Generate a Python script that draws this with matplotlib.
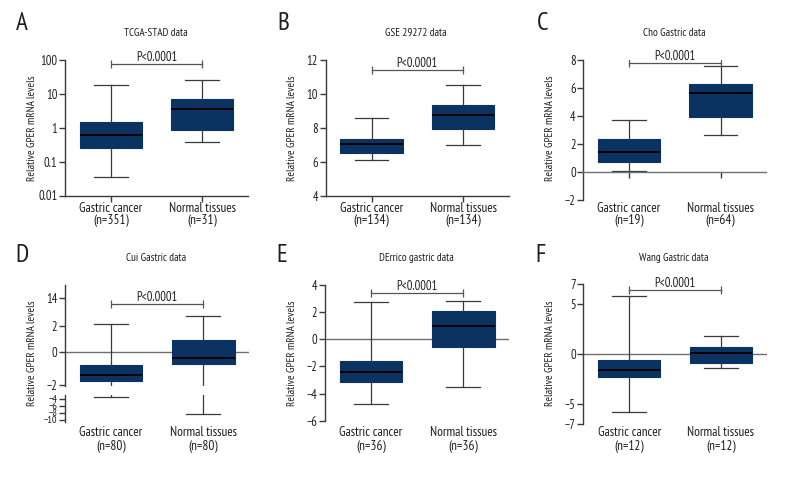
import matplotlib
matplotlib.use('Agg')
import matplotlib.pyplot as plt
import numpy as np
from matplotlib.transforms import blended_transform_factory

plt.rcParams['font.family'] = ['PT Sans Narrow', 'Roboto Condensed', 'Archivo Narrow',
                               'Liberation Sans', 'DejaVu Sans']

# ---- data ----
GROUPS = ['Gastric cancer', 'Normal tissues']
LETTERS = ['A', 'B', 'C', 'D', 'E', 'F']
TITLES = ['TCGA-STAD data', 'GSE 29272 data', 'Cho Gastric data',
          'Cui Gastric data', 'DErrico gastric data', 'Wang Gastric data']
P_LABEL = 'P<0.0001'
YLABEL = 'Relative GPER mRNA levels'

# five-number summaries: lower whisker, Q1, median, Q3, upper whisker
A_CANCER = [0.034, 0.25, 0.61, 1.5, 17.7]
A_NORMAL = [0.37, 0.84, 3.5, 7.3, 26.5]
B_CANCER = [6.1, 6.49, 7.02, 7.32, 8.61]
B_NORMAL = [6.96, 7.92, 8.76, 9.33, 10.53]
C_CANCER = [0.07, 0.74, 1.46, 2.36, 3.75]
C_NORMAL = [2.63, 3.9, 5.66, 6.26, 7.57]
D_CANCER = [-3.7, -1.77, -1.42, -0.8, 2.8]
D_NORMAL = [-8.2, -0.76, -0.39, 0.9, 6.3]
E_CANCER = [-4.78, -3.18, -2.4, -1.6, 2.74]
E_NORMAL = [-3.5, -0.56, 0.96, 2.06, 2.85]
F_CANCER = [-5.8, -2.26, -1.56, -0.56, 5.8]
F_NORMAL = [-1.43, -0.9, 0.14, 0.67, 1.84]

A_N = [351, 31]
B_N = [134, 134]
C_N = [19, 64]
D_N = [80, 80]
E_N = [36, 36]
F_N = [12, 12]

BRACKETS = [75, 11.4, 7.8, 11.4, 3.43, 6.47]

A_TICKS = [0.01, 0.1, 1, 10, 100]
A_TICK_LABELS = ['0.01', '0.1', '1', '10', '100']
B_TICKS = [4, 6, 8, 10, 12]
C_TICKS = [-2, 0, 2, 4, 6, 8]
D_UPPER_TICKS = [-2, 0, 2, 14]
D_LOWER_TICKS = [-10, -8, -6, -4]
E_TICKS = [-6, -4, -2, 0, 2, 4]
F_TICKS = [-7, -5, 0, 5, 7]

# ---- style ----
NAVY = '#0b3362'
AXIS = '#3a3a3a'
WHISK = '#3a3a3a'
ZERO = '#707070'
TEXT = '#1e1e1e'
FS = 9
W, H = 792, 480

fig = plt.figure(figsize=(7.92, 4.8), dpi=100)


def add_axes_px(x0, y0, x1, y1):
    return fig.add_axes([x0 / W, 1 - y1 / H, (x1 - x0) / W, (y1 - y0) / H])


def style_axes(ax, ticks, labels=None):
    for s in ['top', 'right']:
        ax.spines[s].set_visible(False)
    ax.spines['left'].set_color(AXIS)
    ax.spines['left'].set_linewidth(1)
    ax.spines['bottom'].set_color(AXIS)
    ax.spines['bottom'].set_linewidth(1)
    ax.set_xlim(-0.5, 1.5)
    ax.set_yticks(ticks, labels=labels)
    ax.yaxis.set_minor_locator(matplotlib.ticker.NullLocator())
    ax.tick_params(axis='y', direction='out', length=4, width=1, pad=1.5,
                   colors=AXIS, labelcolor=TEXT, labelsize=FS)
    ax.tick_params(axis='x', direction='out', length=4, width=1,
                   colors=AXIS, labelbottom=False)
    ax.patch.set_alpha(0)


def draw_boxes(ax, cancer, normal):
    stats = []
    for five, g in zip([cancer, normal], GROUPS):
        stats.append(dict(whislo=five[0], q1=five[1], med=five[2], q3=five[3],
                          whishi=five[4], label=g, fliers=[]))
    ax.bxp(stats, positions=[0, 1], widths=0.68, capwidths=0.37,
           patch_artist=True, showfliers=False, manage_ticks=False,
           boxprops=dict(facecolor=NAVY, edgecolor=NAVY, linewidth=0.8),
           medianprops=dict(color='black', linewidth=1.4),
           whiskerprops=dict(color=WHISK, linewidth=0.9),
           capprops=dict(color=WHISK, linewidth=0.9))


def bracket(ax, y):
    ax.plot([0, 1], [y, y], color='#555555', lw=0.9, marker='|',
            markersize=6, mew=0.9)
    ax.annotate(P_LABEL, xy=(0.5, y), xytext=(0, 2), textcoords='offset points',
                ha='center', va='baseline', fontsize=FS, color=TEXT)


def category_labels(ax, ns, y1, y2):
    tr = blended_transform_factory(ax.transData, fig.transFigure)
    for i, (g, n) in enumerate(zip(GROUPS, ns)):
        ax.text(i, 1 - y1 / H, g, transform=tr, ha='center', va='center',
                fontsize=9.5, color=TEXT)
        ax.text(i, 1 - y2 / H, '(n={})'.format(n), transform=tr, ha='center',
                va='center', fontsize=9.5, color=TEXT)


def panel_text(letter_xy, title_xy, ylabel_xy, letter, title):
    fig.text(letter_xy[0] / W, 1 - letter_xy[1] / H, letter, ha='center',
             va='center', fontsize=18, color=TEXT)
    fig.text(title_xy[0] / W, 1 - title_xy[1] / H, title, ha='center',
             va='center', fontsize=8, color=TEXT)
    fig.text(ylabel_xy[0] / W, 1 - ylabel_xy[1] / H, YLABEL, rotation=90,
             ha='center', va='center', fontsize=8, color=TEXT)


def zero_axis(ax):
    ax.spines['bottom'].set_visible(False)
    ax.set_xticks([])
    ax.axhline(0, color=ZERO, lw=1, zorder=0.5)


# ---- A: log scale ----
ax = add_axes_px(65, 60, 248, 195.5)
ax.set_yscale('log')
ax.set_ylim(0.01, 100)
style_axes(ax, A_TICKS, A_TICK_LABELS)
ax.set_xticks([0, 1])
draw_boxes(ax, A_CANCER, A_NORMAL)
bracket(ax, BRACKETS[0])
category_labels(ax, A_N, 208.5, 220.5)
panel_text((22, 24), (156, 33), (32, 128), LETTERS[0], TITLES[0])

# ---- B ----
ax = add_axes_px(325.7, 60, 509, 195.7)
ax.set_ylim(4, 12)
style_axes(ax, B_TICKS)
ax.set_xticks([0, 1])
draw_boxes(ax, B_CANCER, B_NORMAL)
bracket(ax, BRACKETS[1])
category_labels(ax, B_N, 208.5, 220.5)
panel_text((283, 24), (415.5, 33), (292, 128), LETTERS[1], TITLES[1])

# ---- C: x axis at zero ----
ax = add_axes_px(583.3, 60, 766.3, 200)
ax.set_ylim(-2, 8)
style_axes(ax, C_TICKS)
ax.spines['bottom'].set_position(('data', 0))
ax.spines['bottom'].set_color(ZERO)
ax.set_xticks([0, 1])
draw_boxes(ax, C_CANCER, C_NORMAL)
bracket(ax, BRACKETS[2])
category_labels(ax, C_N, 208.5, 220.5)
panel_text((543, 24), (674, 33), (550, 128), LETTERS[2], TITLES[2])

# ---- D: broken, segmented axis ----
D_KNOT_VALUES = np.array([-100, -2, 0, 2, 14, 100])
D_KNOT_PX = np.array([384.5 + 98 * 16.25, 384.5, 352, 325.5, 298, 298 - 86 * 2.29])


def d_forward(v):
    return np.interp(v, D_KNOT_VALUES, -D_KNOT_PX)


def d_inverse(p):
    return np.interp(p, -D_KNOT_PX, D_KNOT_VALUES)


ax = add_axes_px(65, 285, 249.3, 386)
ax.set_yscale('function', functions=(d_forward, d_inverse))
ax.set_ylim(float(d_inverse(-386)), float(d_inverse(-285)))
style_axes(ax, D_UPPER_TICKS)
zero_axis(ax)
draw_boxes(ax, D_CANCER, D_NORMAL)
bracket(ax, BRACKETS[3])
category_labels(ax, D_N, 433, 446.7)
panel_text((22, 255), (156, 258), (32, 353), LETTERS[3], TITLES[3])

ax2 = add_axes_px(65, 395, 249.3, 421.7)
ax2.set_ylim(-10.5, -3.0)
style_axes(ax2, D_LOWER_TICKS)
ax2.tick_params(axis='y', labelsize=7.5)
ax2.spines['bottom'].set_visible(False)
ax2.set_xticks([])
draw_boxes(ax2, D_CANCER, D_NORMAL)

# ---- E ----
ax = add_axes_px(325, 285, 509.3, 420.7)
ax.set_ylim(-6, 4)
style_axes(ax, E_TICKS)
zero_axis(ax)
draw_boxes(ax, E_CANCER, E_NORMAL)
bracket(ax, BRACKETS[4])
category_labels(ax, E_N, 433, 446.7)
panel_text((282, 255), (416, 258), (292, 353), LETTERS[4], TITLES[4])

# ---- F ----
ax = add_axes_px(583.3, 284.3, 766.7, 424)
ax.set_ylim(-7, 7)
style_axes(ax, F_TICKS)
zero_axis(ax)
draw_boxes(ax, F_CANCER, F_NORMAL)
bracket(ax, BRACKETS[5])
category_labels(ax, F_N, 433, 446.7)
panel_text((541, 255), (674, 258), (550, 353), LETTERS[5], TITLES[5])

fig.savefig('out.png', dpi=100, facecolor='white')
